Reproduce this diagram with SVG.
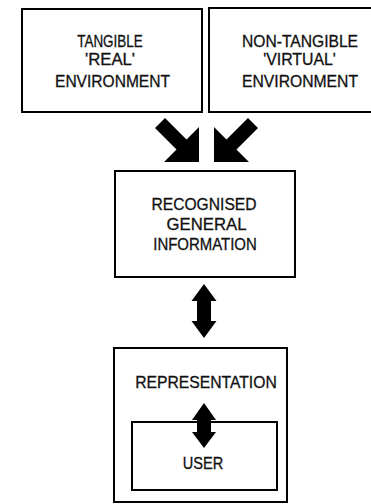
<svg xmlns="http://www.w3.org/2000/svg" width="371" height="504" viewBox="0 0 371 504">
<style>
.box{fill:#fff;stroke:#000;stroke-width:2}
.t{font-family:"Liberation Sans",Arial,Helvetica,sans-serif;font-size:16px;fill:#111;stroke:#111;stroke-width:0.3;text-anchor:middle}
.arr{fill:#000;stroke:none}
</style>
<rect width="371" height="504" fill="#fff"/>
<g id="tangible">
<rect class="box" x="22" y="9" width="180" height="103"/>
<text class="t" x="110" y="46.5" textLength="65.6" lengthAdjust="spacingAndGlyphs">TANGIBLE</text>
<text class="t" x="110" y="65" textLength="50" lengthAdjust="spacingAndGlyphs">'REAL'</text>
<text class="t" x="112.5" y="86.5" textLength="115" lengthAdjust="spacingAndGlyphs">ENVIRONMENT</text>
</g>
<g id="nontangible">
<rect class="box" x="209" y="8" width="180" height="104"/>
<text class="t" x="300" y="46.5" textLength="116" lengthAdjust="spacingAndGlyphs">NON-TANGIBLE</text>
<text class="t" x="299.5" y="65" textLength="72.7" lengthAdjust="spacingAndGlyphs">'VIRTUAL'</text>
<text class="t" x="300" y="86.5" textLength="116" lengthAdjust="spacingAndGlyphs">ENVIRONMENT</text>
</g>
<g id="recognised">
<rect class="box" x="115" y="171" width="180" height="106"/>
<text class="t" x="204" y="210" textLength="105" lengthAdjust="spacingAndGlyphs">RECOGNISED</text>
<text class="t" x="206.5" y="230" textLength="80" lengthAdjust="spacingAndGlyphs">GENERAL</text>
<text class="t" x="205" y="250" textLength="103.5" lengthAdjust="spacingAndGlyphs">INFORMATION</text>
</g>
<g id="representation">
<rect class="box" x="114" y="348" width="173" height="154"/>
<text class="t" x="206" y="388" textLength="141.5" lengthAdjust="spacingAndGlyphs">REPRESENTATION</text>
</g>
<g id="user">
<rect class="box" x="132" y="422" width="145" height="68"/>
<text class="t" x="203" y="469" textLength="40.5" lengthAdjust="spacingAndGlyphs">USER</text>
</g>
<g id="connectors">
<polygon class="arr" points="155,128 165,118 186.5,139.5 199,127 199,162 164,162 176.5,149.5"/>
<polygon class="arr" points="258,128 248,118 226.5,139.5 214,127 214,162 249,162 236.5,149.5"/>
<polygon class="arr" points="204,284 216.5,301 211,301 211,321 216.5,321 204,338 191.5,321 197,321 197,301 191.5,301"/>
<polygon class="arr" points="204,403 216,420 211,420 211,432 216,432 204,448 192,432 197,432 197,420 192,420"/>
</g>
</svg>
